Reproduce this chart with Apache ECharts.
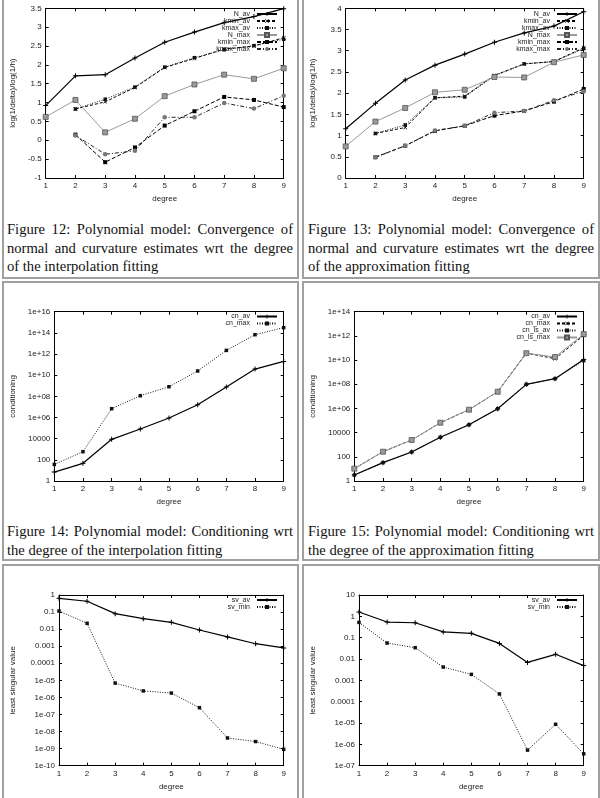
<!DOCTYPE html>
<html>
<head>
<meta charset="utf-8">
<script src="https://cdn.jsdelivr.net/npm/echarts@6/dist/echarts.min.js"></script>
<style>
body { margin: 0; background: #fff; }
#page { position: relative; width: 600px; height: 798px; overflow: hidden; }
.cell { position: absolute; box-sizing: border-box; border: 2px solid #a0a0a0; }
.chart { position: absolute; }
.cap { position: absolute; font-family: "Liberation Serif", serif; font-size: 14.6px; line-height: 18.5px; color: #111; }
.cap div { white-space: nowrap; }
.cap .j { text-align: justify; text-align-last: justify; }
</style>
</head>
<body>
<div id="page">
  <div class="cell" style="left:2px;top:-3px;width:297px;height:282px"></div>
  <div class="cell" style="left:302px;top:-3px;width:298px;height:282px"></div>
  <div class="cell" style="left:2px;top:281px;width:297px;height:280px"></div>
  <div class="cell" style="left:302px;top:281px;width:298px;height:280px"></div>
  <div class="cell" style="left:2px;top:564px;width:297px;height:240px"></div>
  <div class="cell" style="left:302px;top:564px;width:298px;height:240px"></div>

  <div class="cap" style="left:7px;top:220px;width:286px">
    <div class="j">Figure 12: Polynomial model: Convergence of</div>
    <div class="j">normal and curvature estimates wrt the degree</div>
    <div>of the interpolation fitting</div>
  </div>
  <div class="cap" style="left:308px;top:220px;width:286px">
    <div class="j">Figure 13: Polynomial model: Convergence of</div>
    <div class="j">normal and curvature estimates wrt the degree</div>
    <div>of the approximation fitting</div>
  </div>
  <div class="cap" style="left:7px;top:522px;width:286px">
    <div class="j">Figure 14: Polynomial model: Conditioning wrt</div>
    <div>the degree of the interpolation fitting</div>
  </div>
  <div class="cap" style="left:308px;top:522px;width:286px">
    <div class="j">Figure 15: Polynomial model: Conditioning wrt</div>
    <div>the degree of the approximation fitting</div>
  </div>

  <div id="c12" class="chart" style="left:0;top:0;width:300px;height:210px"></div>
  <div id="c13" class="chart" style="left:300px;top:0;width:300px;height:210px"></div>
  <div id="c14" class="chart" style="left:0;top:283px;width:300px;height:235px"></div>
  <div id="c15" class="chart" style="left:300px;top:283px;width:300px;height:235px"></div>
  <div id="c16" class="chart" style="left:0;top:566px;width:300px;height:232px"></div>
  <div id="c17" class="chart" style="left:300px;top:566px;width:300px;height:232px"></div>
</div>
<script>
// x values (polynomial degree)
var degrees = [1, 2, 3, 4, 5, 6, 7, 8, 9];

// Figure 12 - interpolation, convergence
var f12_N_av     = [0.92, 1.71, 1.74, 2.18, 2.60, 2.87, 3.12, 3.28, 3.49];
var f12_kmin_av  = [null, 0.83, 1.02, 1.40, 1.93, 2.17, 2.42, 2.50, 2.72];
var f12_kmax_av  = [null, 0.83, 1.09, 1.41, 1.94, 2.19, 2.40, 2.51, 2.68];
var f12_N_max    = [0.62, 1.07, 0.21, 0.57, 1.17, 1.48, 1.74, 1.63, 1.91];
var f12_kmin_max = [null, 0.15, -0.58, -0.19, 0.39, 0.77, 1.15, 1.07, 0.88];
var f12_kmax_max = [null, 0.13, -0.37, -0.28, 0.61, 0.61, 0.99, 0.84, 1.18];

// Figure 13 - approximation, convergence
var f13_N_av     = [1.16, 1.76, 2.31, 2.66, 2.92, 3.20, 3.42, 3.58, 3.92];
var f13_kmin_av  = [null, 1.05, 1.19, 1.89, 1.93, 2.42, 2.69, 2.745, 3.07];
var f13_kmax_av  = [null, 1.05, 1.25, 1.89, 1.91, 2.41, 2.69, 2.745, 3.05];
var f13_N_max    = [0.745, 1.33, 1.65, 2.02, 2.08, 2.38, 2.37, 2.73, 2.90];
var f13_kmin_max = [null, 0.49, 0.76, 1.11, 1.23, 1.47, 1.58, 1.80, 2.10];
var f13_kmax_max = [null, 0.49, 0.76, 1.12, 1.23, 1.54, 1.58, 1.83, 2.04];

// Figure 14 - interpolation, conditioning
var f14_cn_av  = [7, 47, 8700, 8.2e4, 9e5, 1.6e7, 7.6e8, 3.8e10, 2e11];
var f14_cn_max = [37, 590, 6.8e6, 1.15e8, 8.1e8, 2.5e10, 2.2e12, 6.7e13, 3.1e14];

// Figure 15 - approximation, conditioning
var f15_cn_av     = [3.1, 33, 250, 4100, 4.5e4, 9.5e5, 9.8e7, 2.9e8, 1.1e10];
var f15_cn_max    = [10.5, 265, 2450, 6.6e4, 7.9e5, 2.4e7, 3.8e10, 1.3e10, 1.1e12];
var f15_cn_ls_av  = [3.1, 33, 250, 4100, 4.5e4, 9.5e5, 9.8e7, 2.9e8, 9e9];
var f15_cn_ls_max = [10.5, 265, 2450, 6.6e4, 7.9e5, 2.4e7, 3.7e10, 1.8e10, 1.4e12];

// Figure 16 / 17 - least singular value
var f16_sv_av  = [0.64, 0.43, 0.081, 0.041, 0.025, 0.0089, 0.0035, 0.0014, 0.00079];
var f16_sv_min = [0.115, 0.022, 6.9e-6, 2.4e-6, 1.8e-6, 2.5e-7, 4.2e-9, 2.6e-9, 9.1e-10];
var f17_sv_av  = [1.6, 0.54, 0.5, 0.186, 0.16, 0.054, 0.0069, 0.0166, 0.0049];
var f17_sv_min = [0.52, 0.056, 0.034, 0.0042, 0.0019, 0.00023, 5.4e-7, 8.7e-6, 3.6e-7];

var plus = 'path://M4,0H6V4H10V6H6V10H4V6H0V4H4Z';
var cross = 'path://M1,0L5,4L9,0L10,1L6,5L10,9L9,10L5,6L1,10L0,9L4,5L0,1Z';

var styles = {
    solidPlus:  { color: '#000', line: { width: 1.2 }, symbol: plus, size: 5 },
    dashCross:  { color: '#000', line: { width: 1, type: [3, 2] }, symbol: cross, size: 4 },
    dotSquare:  { color: '#111', line: { width: 1, type: [1, 1.5] }, symbol: 'rect', size: 3.5 },
    graySquare: { color: '#9a9a9a', line: { width: 1 }, symbol: 'rect', size: 5, border: '#555' },
    dashSquare: { color: '#000', line: { width: 1, type: [4, 2] }, symbol: 'rect', size: 4 },
    dashDotCircle: { color: '#222', line: { width: 1, type: [4, 2, 1, 2] }, symbol: 'circle', size: 4.5, fill: '#777' }
};

// gnuplot style %g labels for log axes
function gfmt(v) {
    var e = Math.round(Math.log(v) / Math.LN10);
    if (e < -4 || e >= 6) {
        var a = Math.abs(e);
        return '1e' + (e < 0 ? '-' : '+') + (a < 10 ? '0' + a : a);
    }
    return e >= 0 ? String(Math.pow(10, e)) : (1 / Math.pow(10, -e)).toFixed(-e);
}

function makeSeries(name, values, st) {
    return {
        name: name,
        type: 'line',
        data: degrees.map(function (d, i) { return [d, values[i]]; }),
        symbol: st.symbol,
        symbolSize: st.size,
        showAllSymbol: true,
        animation: false,
        lineStyle: { color: st.color, width: st.line.width, type: st.line.type || 'solid' },
        itemStyle: { color: st.fill || st.color, borderColor: st.border || st.color, borderWidth: st.border ? 0.8 : 0 }
    };
}

function buildChart(id, cfg) {
    var chart = echarts.init(document.getElementById(id));
    var labelFont = { fontFamily: 'Liberation Sans', fontSize: 8, color: '#222' };
    var yBase = {
        type: cfg.log ? 'log' : 'value',
        min: cfg.yMin, max: cfg.yMax, interval: cfg.yInterval,
        splitLine: { show: false },
        axisLine: { show: true, lineStyle: { color: '#000' } },
        axisTick: { show: true, inside: true, length: 3, lineStyle: { color: '#000' } }
    };
    var xBase = {
        type: 'value', min: 1, max: 9, interval: 1,
        splitLine: { show: false },
        axisLine: { show: true, onZero: false, lineStyle: { color: '#000' } },
        axisTick: { show: true, inside: true, length: 3, lineStyle: { color: '#000' } }
    };
    var option = {
        animation: false,
        grid: cfg.grid,
        legend: {
            orient: 'vertical',
            align: 'right',
            right: cfg.legendRight,
            top: cfg.legendTop,
            itemWidth: 20,
            itemHeight: 5,
            itemGap: 0,
            padding: 0,
            textStyle: { fontFamily: 'Liberation Sans', fontSize: 7, color: '#222', padding: [0, 2, 0, 0] },
            data: cfg.series.map(function (s) { return s.name; })
        },
        xAxis: [
            Object.assign({}, xBase, {
                position: 'bottom',
                name: 'degree', nameLocation: 'middle', nameGap: cfg.xNameGap,
                nameTextStyle: labelFont,
                axisLabel: Object.assign({ margin: 4 }, labelFont)
            }),
            Object.assign({}, xBase, { position: 'top', axisLabel: { show: false } })
        ],
        yAxis: [
            Object.assign({}, yBase, {
                position: 'left',
                name: cfg.yName, nameLocation: 'middle', nameGap: cfg.yNameGap,
                nameTextStyle: labelFont,
                axisLabel: Object.assign({ margin: 4, formatter: cfg.log ? gfmt : null }, labelFont)
            }),
            Object.assign({}, yBase, { position: 'right', axisLabel: { show: false } })
        ],
        series: cfg.series.map(function (s) { return makeSeries(s.name, s.data, s.style); })
    };
    chart.setOption(option);
    return chart;
}

buildChart('c12', {
    grid: { left: 45.7, top: 8.3, width: 238, height: 169.7 },
    yMin: -1, yMax: 3.5, yInterval: 0.5,
    yName: 'log(1/delta)/log(1/h)', yNameGap: 29, xNameGap: 13,
    legendRight: 22, legendTop: 10.5,
    series: [
        { name: 'N_av', data: f12_N_av, style: styles.solidPlus },
        { name: 'kmin_av', data: f12_kmin_av, style: styles.dashCross },
        { name: 'kmax_av', data: f12_kmax_av, style: styles.dotSquare },
        { name: 'N_max', data: f12_N_max, style: styles.graySquare },
        { name: 'kmin_max', data: f12_kmin_max, style: styles.dashSquare },
        { name: 'kmax_max', data: f12_kmax_max, style: styles.dashDotCircle }
    ]
});

buildChart('c13', {
    grid: { left: 45.7, top: 8.3, width: 238, height: 169.7 },
    yMin: 0, yMax: 4, yInterval: 0.5,
    yName: 'log(1/delta)/log(1/h)', yNameGap: 29, xNameGap: 13,
    legendRight: 22, legendTop: 10.5,
    series: [
        { name: 'N_av', data: f13_N_av, style: styles.solidPlus },
        { name: 'kmin_av', data: f13_kmin_av, style: styles.dashCross },
        { name: 'kmax_av', data: f13_kmax_av, style: styles.dotSquare },
        { name: 'N_max', data: f13_N_max, style: styles.graySquare },
        { name: 'kmin_max', data: f13_kmin_max, style: styles.dashSquare },
        { name: 'kmax_max', data: f13_kmax_max, style: styles.dashDotCircle }
    ]
});

buildChart('c14', {
    grid: { left: 54.3, top: 28.7, width: 229.4, height: 169.3 },
    log: true, yMin: 1, yMax: 1e16, yInterval: 2,
    yName: 'conditioning', yNameGap: 37, xNameGap: 14,
    legendRight: 22, legendTop: 30,
    series: [
        { name: 'cn_av', data: f14_cn_av, style: styles.solidPlus },
        { name: 'cn_max', data: f14_cn_max, style: styles.dotSquare }
    ]
});

buildChart('c15', {
    grid: { left: 54.3, top: 28.7, width: 229.4, height: 169.3 },
    log: true, yMin: 1, yMax: 1e14, yInterval: 2,
    yName: 'conditioning', yNameGap: 37, xNameGap: 14,
    legendRight: 22, legendTop: 30,
    series: [
        { name: 'cn_av', data: f15_cn_av, style: styles.solidPlus },
        { name: 'cn_max', data: f15_cn_max, style: styles.dashCross },
        { name: 'cn_ls_av', data: f15_cn_ls_av, style: styles.dotSquare },
        { name: 'cn_ls_max', data: f15_cn_ls_max, style: styles.graySquare }
    ]
});

buildChart('c16', {
    grid: { left: 59, top: 29, width: 224.7, height: 170.7 },
    log: true, yMin: 1e-10, yMax: 1, yInterval: 1,
    yName: 'least singular value', yNameGap: 42, xNameGap: 13,
    legendRight: 22, legendTop: 30.5,
    series: [
        { name: 'sv_av', data: f16_sv_av, style: styles.solidPlus },
        { name: 'sv_min', data: f16_sv_min, style: styles.dotSquare }
    ]
});

buildChart('c17', {
    grid: { left: 59, top: 29, width: 224.7, height: 170.7 },
    log: true, yMin: 1e-7, yMax: 10, yInterval: 1,
    yName: 'least singular value', yNameGap: 42, xNameGap: 13,
    legendRight: 22, legendTop: 30.5,
    series: [
        { name: 'sv_av', data: f17_sv_av, style: styles.solidPlus },
        { name: 'sv_min', data: f17_sv_min, style: styles.dotSquare }
    ]
});
</script>
</body>
</html>
